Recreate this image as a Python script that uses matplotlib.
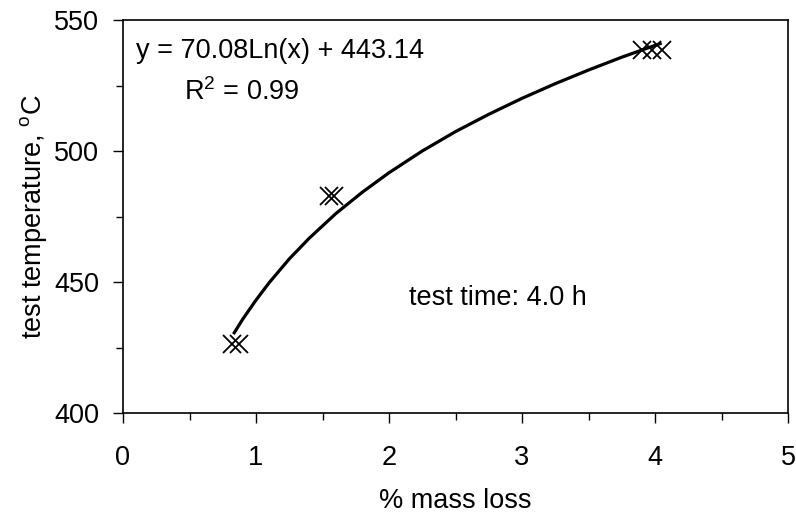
# Pérdida de masa vs temperatura de ensayo, con ajuste logarítmico

import matplotlib.pyplot as plt
from matplotlib.ticker import MultipleLocator

plt.rcParams['font.family'] = ['Liberation Sans', 'DejaVu Sans']

# Puntos medidos
mass_loss = [0.82, 0.87, 1.55, 1.59, 3.90, 3.98, 4.05]
temperature = [426.5, 426.5, 483.0, 483.0, 538.5, 538.5, 538.5]

# Línea de tendencia
trend_x = [0.83, 0.9, 1.0, 1.1, 1.25, 1.4, 1.6, 1.8, 2.0, 2.25, 2.5,
           2.75, 3.0, 3.25, 3.5, 3.75, 4.05]
trend_y = [430.1, 435.8, 443.1, 449.8, 458.8, 466.7, 476.1, 484.3, 491.7,
           500.0, 507.4, 514.0, 520.1, 525.7, 530.9, 535.8, 541.2]

fs = 19.5

fig = plt.figure(figsize=(7.96, 5.17), dpi=100)
ax = fig.add_axes([123 / 796, 1 - 413 / 517, 665 / 796, 393 / 517])

ax.plot(trend_x, trend_y, color='black', lw=2.3, solid_capstyle='butt')
ax.plot(mass_loss, temperature, ls='none', marker='x', ms=13, mew=1.3,
        color='black')

ax.set_xlim(0, 5)
ax.set_ylim(400, 550)
ax.xaxis.set_major_locator(MultipleLocator(1))
ax.xaxis.set_minor_locator(MultipleLocator(0.5))
ax.yaxis.set_major_locator(MultipleLocator(50))
ax.yaxis.set_minor_locator(MultipleLocator(25))
ax.tick_params(which='both', direction='out', width=1, labelsize=fs,
               color='black')
ax.tick_params(which='major', length=7)
ax.tick_params(which='minor', length=5)
ax.tick_params(axis='x', which='major', pad=16)
ax.tick_params(axis='y', which='major', pad=10)
for sp in ax.spines.values():
    sp.set_linewidth(1.2)

ax.set_xlabel('% mass loss', fontsize=fs, labelpad=12)
ax.set_ylabel('test temperature, $^\\mathregular{o}$C', fontsize=fs, labelpad=4)

ax.text(0.1, 538, 'y = 70.08Ln(x) + 443.14', fontsize=fs, va='center')
ax.text(0.89, 522.5, 'R$^\\mathregular{2}$ = 0.99', fontsize=fs,
        va='center', ha='center')
ax.text(2.82, 444, 'test time: 4.0 h', fontsize=fs, va='center', ha='center')

fig.savefig('out.png', dpi=100)
